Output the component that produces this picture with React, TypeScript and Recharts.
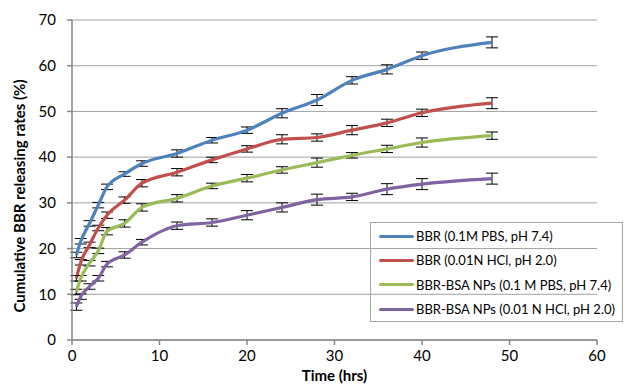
import React from "react";
import { LineChart, Line, XAxis, YAxis, CartesianGrid, ErrorBar, Label } from "recharts";

const timeHrs = [0.5, 1, 2, 3, 4, 6, 8, 12, 16, 20, 24, 28, 32, 36, 40, 48];

const bbrPBS = [18.6, 21.6, 25.5, 29.5, 33.5, 36.3, 38.6, 40.8, 43.7, 45.9, 49.6, 52.5, 56.8, 59.2, 62.2, 65.1];
const bbrHCl = [13.5, 17.0, 20.8, 24.5, 27.3, 30.6, 34.3, 36.7, 39.4, 41.8, 43.9, 44.3, 45.9, 47.5, 49.7, 51.8];
const npPBS = [10.5, 13.5, 16.8, 19.5, 23.8, 25.5, 29.0, 31.0, 33.7, 35.4, 37.2, 38.8, 40.4, 41.8, 43.2, 44.7];
const npHCl = [7.3, 9.5, 11.7, 13.5, 16.6, 18.6, 21.4, 25.0, 25.7, 27.3, 29.0, 30.7, 31.3, 33.0, 34.1, 35.3];

const errBbrPBS = [0.6, 0.6, 0.6, 0.6, 0.6, 0.5, 0.6, 0.8, 0.6, 0.7, 1.0, 1.2, 0.8, 1.0, 0.8, 1.2];
const errBbrHCl = [0.6, 0.6, 0.6, 0.6, 0.7, 0.7, 0.8, 0.8, 0.6, 0.7, 1.0, 0.8, 1.0, 0.8, 0.8, 1.2];
const errNpPBS = [0.6, 0.6, 0.6, 0.6, 0.8, 0.8, 0.8, 0.8, 0.6, 0.8, 0.7, 1.0, 0.6, 0.8, 1.0, 0.8];
const errNpHCl = [0.8, 0.6, 0.6, 0.6, 0.6, 0.7, 0.6, 0.8, 0.8, 1.0, 1.0, 1.2, 0.8, 1.2, 1.2, 1.2];

const xTicks = [0, 10, 20, 30, 40, 50, 60];
const yTicks = [0, 10, 20, 30, 40, 50, 60, 70];

const seriesNames = [
  "BBR (0.1M PBS, pH 7.4)",
  "BBR (0.01N HCl, pH 2.0)",
  "BBR-BSA NPs (0.1 M PBS, pH 7.4)",
  "BBR-BSA NPs (0.01 N HCl, pH 2.0)",
];
const seriesColors = ["#4F81BD", "#C0504D", "#9BBB59", "#8064A2"];

const data = timeHrs.map((t, i) => ({
  t,
  a: bbrPBS[i],
  aErr: errBbrPBS[i],
  b: bbrHCl[i],
  bErr: errBbrHCl[i],
  c: npPBS[i],
  cErr: errNpPBS[i],
  d: npHCl[i],
  dErr: errNpHCl[i],
}));

const FONT = "Lato, 'Liberation Sans', sans-serif";

const LegendBox = () => (
  <div
    style={{
      position: "absolute",
      left: 370,
      top: 222,
      border: "1px solid #a6a6a6",
      width: 253,
      height: 100,
      boxSizing: "border-box",
      padding: "1px 0 0 8px",
      fontFamily: FONT,
      fontSize: 13,
      color: "#000",
    }}
  >
    {seriesNames.map((n, i) => (
      <div key={n} style={{ display: "flex", alignItems: "center", height: 24.3 }}>
        <div style={{ width: 35, height: 3, background: seriesColors[i], marginRight: 2, borderRadius: 1.5 }} />
        <span style={{ whiteSpace: "nowrap" }}>{n}</span>
      </div>
    ))}
  </div>
);

export default function App() {
  const keys = ["a", "b", "c", "d"];
  return (
    <div style={{ position: "absolute", left: 0, top: 0, width: 625, height: 388, background: "#fff" }}>
      <LineChart width={625} height={388} data={data} margin={{ top: 20, right: 28, left: 0, bottom: 18 }}>
        <CartesianGrid vertical={false} stroke="#a0a0a0" strokeWidth={1} />
        <XAxis
          dataKey="t"
          type="number"
          domain={[0, 60]}
          ticks={xTicks}
          height={30}
          stroke="#868686"
          strokeWidth={1.5}
          tickSize={5}
          tickMargin={5}
          tick={{ fill: "#000", fontSize: 15, fontFamily: FONT }}
        >
          <Label value="Time (hrs)" position="bottom" offset={0} style={{ fontFamily: FONT, fontSize: 15, fontWeight: 700, fill: "#000" }} />
        </XAxis>
        <YAxis
          type="number"
          domain={[0, 70]}
          ticks={yTicks}
          width={72}
          stroke="#868686"
          strokeWidth={1.5}
          tickSize={5}
          tickMargin={11}
          tick={{ fill: "#000", fontSize: 15, fontFamily: FONT }}
        >
          <Label
            content={() => (
              <text
                x={19}
                y={196}
                transform="rotate(-90, 19, 196)"
                textAnchor="middle"
                dominantBaseline="central"
                style={{ fontFamily: FONT, fontSize: 15, fontWeight: 700, fill: "#000" }}
              >
                Cumulative BBR releasing rates (%)
              </text>
            )}
          />
        </YAxis>
        {keys.map((k, i) => (
          <Line
            key={k}
            dataKey={k}
            name={seriesNames[i]}
            type="monotone"
            stroke={seriesColors[i]}
            strokeWidth={3.2}
            dot={false}
            isAnimationActive={false}
          >
            <ErrorBar dataKey={k + "Err"} width={6} stroke="#000" strokeWidth={1} direction="y" />
          </Line>
        ))}
      </LineChart>
      <LegendBox />
    </div>
  );
}
